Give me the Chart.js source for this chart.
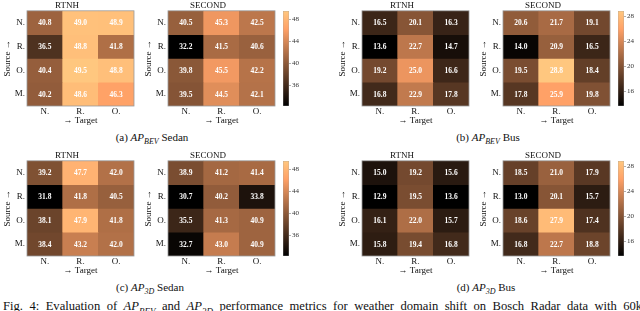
<!DOCTYPE html>
<html>
<head>
<meta charset="utf-8">
<script src="https://cdn.jsdelivr.net/npm/chart.js@4.4.1/dist/chart.umd.min.js"></script>
<style>
  html, body { margin: 0; padding: 0; background: #fff; width: 640px; height: 311px; overflow: hidden; }
  .c { position: absolute; }
  .cap { position: absolute; font-family: "Liberation Serif", serif; font-size: 11px; color: #111; text-align: center; white-space: nowrap; }
  .cap i { font-style: italic; }
  .fig { position: absolute; left: 3px; top: 299px; width: 650px; font-family: "Liberation Serif", serif; font-size: 12.6px; color: #111; white-space: nowrap; word-spacing: 3.3px; }
</style>
</head>
<body>
<div id="root"></div>
<script>
// ---- data ----
const targets = ['N.', 'R.', 'O.'];
const sources = ['N.', 'R.', 'O.', 'M.'];
const models = ['RTNH', 'SECOND'];

const bevSedanRTNH   = [[40.8, 49.0, 48.9], [36.5, 48.8, 41.8], [40.4, 49.5, 48.8], [40.2, 48.6, 46.3]];
const bevSedanSECOND = [[40.5, 45.3, 42.5], [32.2, 41.5, 40.6], [39.8, 45.5, 42.2], [39.5, 44.5, 42.1]];
const bevBusRTNH     = [[16.5, 20.1, 16.3], [13.6, 22.7, 14.7], [19.2, 25.0, 16.6], [16.8, 22.9, 17.8]];
const bevBusSECOND   = [[20.6, 21.7, 19.1], [14.0, 20.9, 16.5], [19.5, 28.8, 18.4], [17.8, 25.9, 19.8]];
const d3SedanRTNH    = [[39.2, 47.7, 42.0], [31.8, 41.8, 40.5], [38.1, 47.9, 41.8], [38.4, 43.2, 42.0]];
const d3SedanSECOND  = [[38.9, 41.2, 41.4], [30.7, 40.2, 33.8], [35.5, 41.3, 40.9], [32.7, 43.0, 40.9]];
const d3BusRTNH      = [[15.0, 19.2, 15.6], [12.9, 19.5, 13.6], [16.1, 22.0, 15.7], [15.8, 19.4, 16.8]];
const d3BusSECOND    = [[18.5, 21.0, 17.9], [13.0, 20.1, 15.7], [18.6, 27.9, 17.4], [16.8, 22.7, 18.8]];

const sedanRange = [32.2, 49.5];
const busRange = [13.6, 28.8];
const sedanTicks = [36, 40, 44, 48];
const busTicks = [16, 20, 24, 28];

// ---- helpers ----
const SERIF = '"Liberation Serif", "DejaVu Serif", serif';

function copper(t) {
  t = Math.max(0, Math.min(1, t));
  const r = Math.min(1, t / 0.809524);
  const g = 0.7812 * t;
  const b = 0.4975 * t;
  return `rgb(${Math.round(r * 255)},${Math.round(g * 255)},${Math.round(b * 255)})`;
}

const cellText = {
  id: 'cellText',
  afterDatasetsDraw(chart) {
    const ctx = chart.ctx;
    ctx.save();
    ctx.fillStyle = '#fff';
    ctx.font = 'bold 7.5px ' + SERIF;
    ctx.textAlign = 'center';
    ctx.textBaseline = 'middle';
    chart.data.datasets.forEach((ds, i) => {
      const meta = chart.getDatasetMeta(i);
      meta.data.forEach((el, j) => {
        const p = el.getProps(['x', 'y', 'base'], true);
        ctx.fillText(ds.values[j].toFixed(1), p.x, (p.y + p.base) / 2 + 0.5);
      });
    });
    const a = chart.chartArea;
    ctx.strokeStyle = '#9a9a9a';
    ctx.lineWidth = 0.8;
    ctx.strokeRect(a.left, a.top, a.right - a.left, a.bottom - a.top);
    ctx.restore();
  }
};

function addCanvas(left, top, w, h) {
  const cv = document.createElement('canvas');
  cv.className = 'c';
  cv.style.left = left + 'px';
  cv.style.top = top + 'px';
  cv.style.width = w + 'px';
  cv.style.height = h + 'px';
  cv.width = w; cv.height = h;
  document.getElementById('root').appendChild(cv);
  return cv;
}

function heatmap(left, top, title, grid, range) {
  const cv = addCanvas(left, top, 136, 126);
  const datasets = sources.map((s, r) => ({
    label: s,
    data: targets.map(() => 1),
    values: grid[r],
    backgroundColor: grid[r].map(v => copper((v - range[0]) / (range[1] - range[0]))),
    borderWidth: 0,
    barPercentage: 1,
    categoryPercentage: 1
  }));
  new Chart(cv, {
    type: 'bar',
    data: { labels: targets, datasets },
    plugins: [cellText],
    options: {
      responsive: false,
      animation: false,
      events: [],
      layout: { padding: { left: 0, right: 2, top: 0, bottom: 0 } },
      plugins: {
        legend: { display: false },
        tooltip: { enabled: false },
        title: { display: true, text: title, color: '#111', font: { family: SERIF, size: 9, weight: 'normal', lineHeight: 1.2 }, padding: { top: 0, bottom: 0 } }
      },
      scales: {
        x: {
          stacked: true,
          grid: { display: false, drawTicks: false },
          border: { display: false },
          ticks: { color: '#111', font: { family: SERIF, size: 9 }, padding: 0, maxRotation: 0 },
          title: { display: true, text: '\u2192 Target', color: '#111', font: { family: SERIF, size: 9, lineHeight: 1.2 }, padding: { top: 0, bottom: 0 } },
          afterFit: s => { s.height = 20; }
        },
        y: {
          stacked: true,
          reverse: true,
          min: 0,
          max: 4,
          grid: { display: false, drawTicks: false },
          border: { display: false },
          afterBuildTicks: s => { s.ticks = [0.5, 1.5, 2.5, 3.5].map(v => ({ value: v })); },
          ticks: { color: '#111', font: { family: SERIF, size: 9 }, padding: 2, callback: v => sources[Math.round(v - 0.5)] },
          title: { display: true, text: 'Source \u2192', color: '#111', font: { family: SERIF, size: 9, lineHeight: 1.2 }, padding: { top: 2, bottom: 0 } },
          afterFit: s => { s.width = 27; }
        }
      }
    }
  });
}

function colorbar(left, top, range, ticks) {
  const cv = addCanvas(left, top, 36, 126);
  new Chart(cv, {
    type: 'bar',
    data: {
      labels: [''],
      datasets: [{
        data: [[range[0], range[1]]],
        backgroundColor: (c) => {
          const a = c.chart.chartArea;
          if (!a) return '#000';
          const g = c.chart.ctx.createLinearGradient(0, a.bottom, 0, a.top);
          g.addColorStop(0, copper(0));
          g.addColorStop(0.809524, copper(0.809524));
          g.addColorStop(1, copper(1));
          return g;
        },
        borderColor: '#9a9a9a',
        borderWidth: 0.6,
        borderSkipped: false,
        barPercentage: 1,
        categoryPercentage: 1
      }]
    },
    options: {
      responsive: false,
      animation: false,
      events: [],
      layout: { padding: { left: 2, right: 0, top: 11, bottom: 20 } },
      plugins: { legend: { display: false }, tooltip: { enabled: false } },
      scales: {
        x: { display: false },
        y: {
          position: 'right',
          min: range[0],
          max: range[1],
          border: { display: false },
          grid: { drawOnChartArea: false, drawTicks: true, tickLength: 2, color: '#777', lineWidth: 0.6 },
          afterBuildTicks: s => { s.ticks = ticks.map(v => ({ value: v })); },
          ticks: { color: '#333', font: { family: SERIF, size: 7 }, padding: 1 },
          afterFit: s => { s.width = 28; }
        }
      }
    }
  });
}

function group(gx, gy, gridR, gridS, range, ticks, capHtml, capX) {
  heatmap(gx + 0, gy + 0, models[0], gridR, range);
  heatmap(gx + 141, gy + 0, models[1], gridS, range);
  colorbar(gx + 281, gy + 0, range, ticks);
  const cap = document.createElement('div');
  cap.className = 'cap';
  cap.innerHTML = capHtml;
  cap.style.left = (gx + capX - 60) + 'px';
  cap.style.width = '120px';
  cap.style.top = (gy + 131) + 'px';
  document.getElementById('root').appendChild(cap);
}

group(0, 0, bevSedanRTNH, bevSedanSECOND, sedanRange, sedanTicks, '(a) <i>AP<sub style="font-size:8px">BEV</sub></i> Sedan', 152);
group(335, 0, bevBusRTNH, bevBusSECOND, busRange, busTicks, '(b) <i>AP<sub style="font-size:8px">BEV</sub></i> Bus', 153);
group(0, 150, d3SedanRTNH, d3SedanSECOND, sedanRange, sedanTicks, '(c) <i>AP<sub style="font-size:8px">3D</sub></i> Sedan', 150);
group(335, 150, d3BusRTNH, d3BusSECOND, busRange, busTicks, '(d) <i>AP<sub style="font-size:8px">3D</sub></i> Bus', 151);

const fig = document.createElement('div');
fig.className = 'fig';
fig.innerHTML = 'Fig. 4: Evaluation of <i>AP<sub style="font-size:9px">BEV</sub></i> and <i>AP<sub style="font-size:9px">3D</sub></i> performance metrics for weather domain shift on Bosch Radar data with 60k';
document.getElementById('root').appendChild(fig);
</script>
</body>
</html>
